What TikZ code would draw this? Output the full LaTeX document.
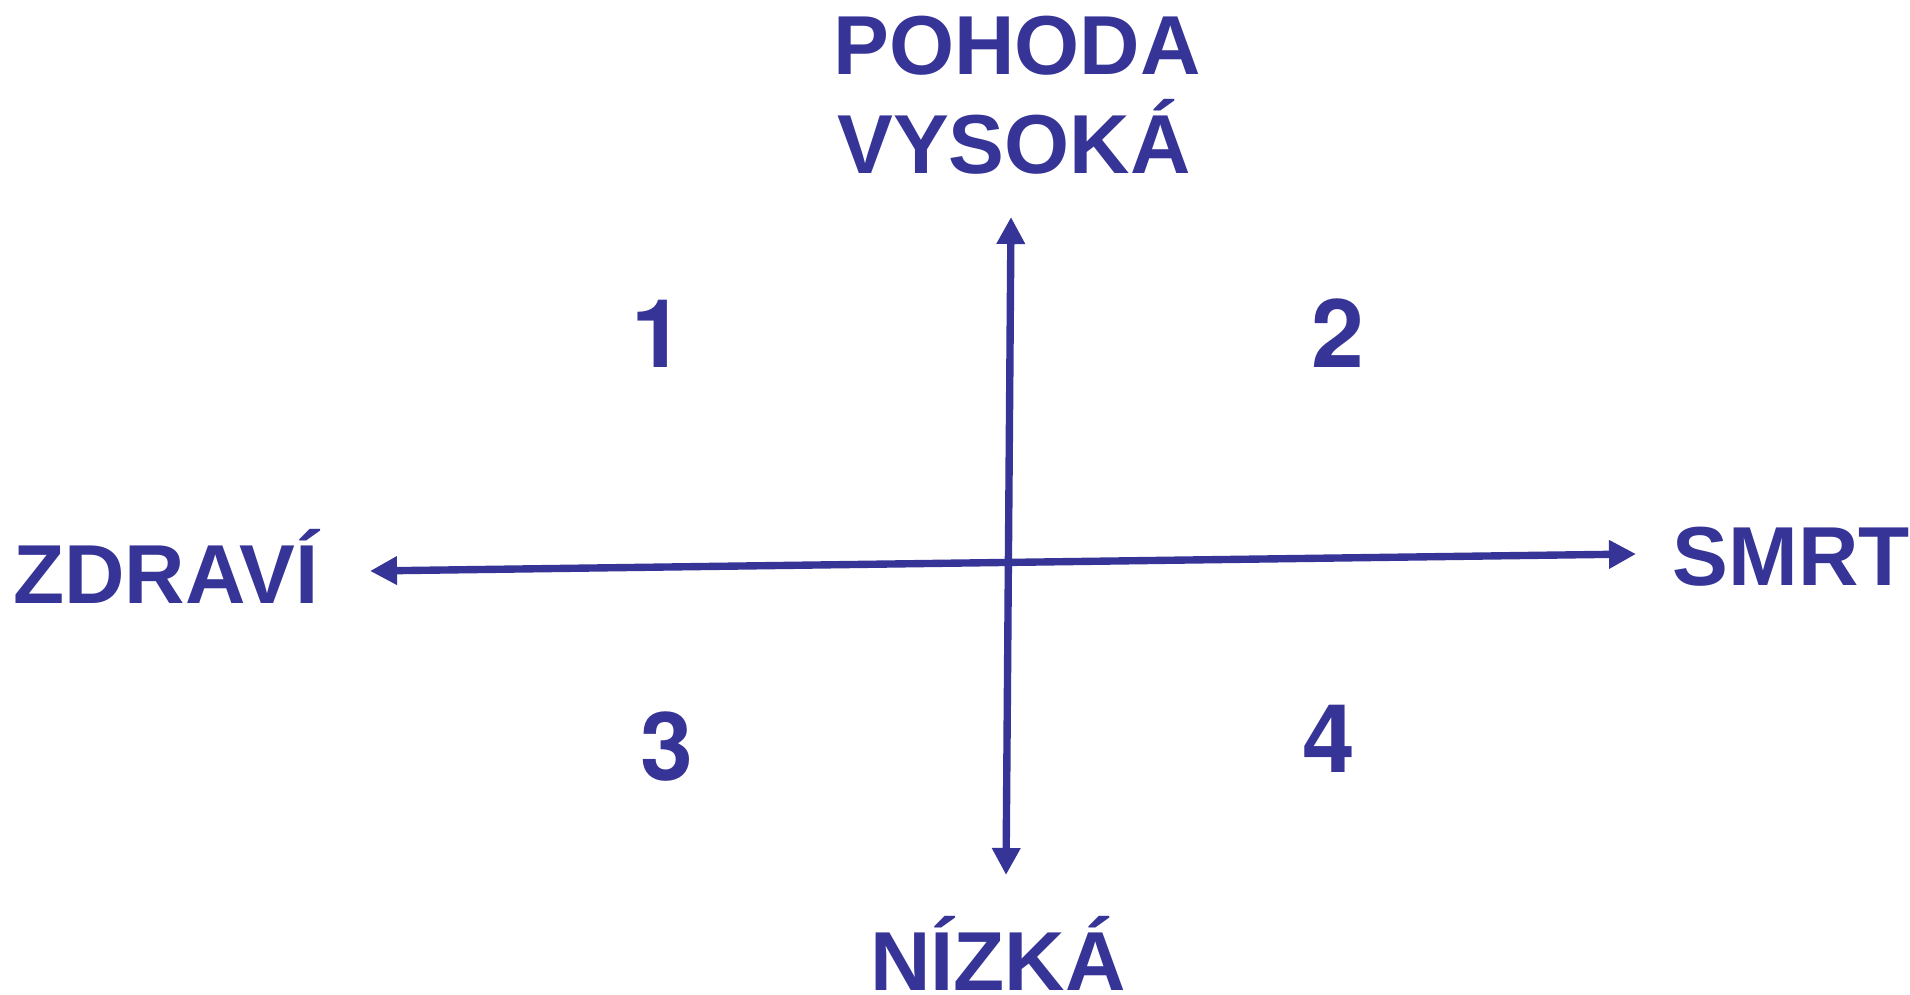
\documentclass[tikz,border=0pt]{standalone}
\usepackage{fontspec}
\setmainfont{Liberation Sans}
\newfontfamily\digitfont{TeX Gyre Heros}
\usetikzlibrary{arrows.meta}
\definecolor{AxisBlue}{RGB}{54,52,150}
\tikzset{
  word/.style={text=AxisBlue,font=\fontsize{23.8pt}{26pt}\selectfont\bfseries,inner sep=0pt,anchor=base},
  quad/.style={text=AxisBlue,font=\digitfont\fontsize{27pt}{30pt}\selectfont\bfseries,inner sep=0pt,anchor=base},
  axis/.style={draw=AxisBlue,line width=2.1pt,{Triangle[width=0.27cm,length=0.27cm]}-{Triangle[width=0.27cm,length=0.27cm]}},
}

\begin{document}
\begin{tikzpicture}[x=0.01cm,y=-0.01cm]
\useasboundingbox (0,0) rectangle (1910,995);
\coordinate (top) at (1011,217);
\coordinate (bot) at (1006,875);
\coordinate (lft) at (370,571);
\coordinate (rgt) at (1636,554);
\draw[axis] (bot)--(top);
\draw[axis] (lft)--(rgt);
\node[word] (pohoda) at (1017,75) {POHODA};
\node[word] (vysoka) at (1014,174) {VYSOKÁ};
\node[word] (nizka) at (998,990) {NÍZKÁ};
\node[word] (zdravi) at (166,604) {ZDRAVÍ};
\node[word] (smrt) at (1791,586) {SMRT};
\node[quad] (q1) at (658,368) {1};
\node[quad] (q2) at (1338,368) {2};
\node[quad] (q3) at (667,780) {3};
\node[quad] (q4) at (1329,772) {4};
\end{tikzpicture}
\end{document}
